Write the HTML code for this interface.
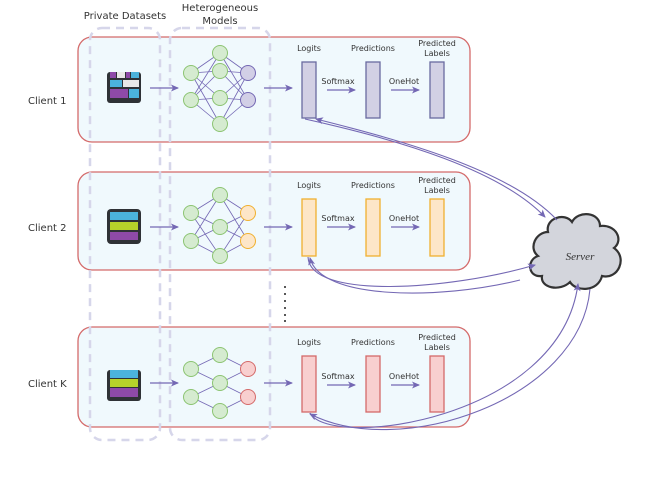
<!DOCTYPE html>
<html><head><style>
body{margin:0;background:#fff;}
svg text{font-family:"DejaVu Sans","Liberation Sans",sans-serif;fill:#333;}
</style></head><body>
<svg width="654" height="498" viewBox="0 0 654 498" xmlns="http://www.w3.org/2000/svg">
<defs>
<marker id="a" markerWidth="8" markerHeight="8" refX="7" refY="4" orient="auto" markerUnits="userSpaceOnUse"><path d="M0,0.5 L8,4 L0,7.5 L2,4 z" fill="#7468b4"/></marker>
</defs>
<rect x="78" y="37" width="392" height="105" rx="14" fill="#f0f9fd" stroke="#d46a6a" stroke-width="1.3"/>
<rect x="78" y="172" width="392" height="98" rx="14" fill="#f0f9fd" stroke="#d46a6a" stroke-width="1.3"/>
<rect x="78" y="327" width="392" height="100" rx="14" fill="#f0f9fd" stroke="#d46a6a" stroke-width="1.3"/>
<rect x="90" y="28" width="70" height="412" rx="12" fill="none" stroke="#d6d6ea" stroke-width="2.5" stroke-dasharray="8,6"/>
<rect x="170" y="28" width="100" height="412" rx="12" fill="none" stroke="#d6d6ea" stroke-width="2.5" stroke-dasharray="8,6"/>
<text x="125" y="19" font-size="10" text-anchor="middle">Private Datasets</text>
<text x="220" y="11" font-size="10" text-anchor="middle">Heterogeneous</text>
<text x="220" y="24" font-size="10" text-anchor="middle">Models</text>
<text x="28" y="104" font-size="10">Client 1</text>
<text x="28" y="231" font-size="10">Client 2</text>
<text x="28" y="387" font-size="10">Client K</text>
<g>
<rect x="107" y="72" width="34" height="31" rx="3" fill="#2f3236"/>
<rect x="110" y="72" width="6" height="6" fill="#8e4aa8"/><rect x="117" y="72" width="8" height="6" fill="#e8e8e8"/><rect x="126" y="72" width="4" height="6" fill="#8e4aa8"/><rect x="131" y="72" width="8" height="6" fill="#4bb3dc"/>
<rect x="110" y="80" width="12" height="7" fill="#4bb3dc"/><rect x="123" y="80" width="16" height="7" fill="#e8e8e8"/>
<rect x="110" y="89" width="18" height="9" fill="#8e4aa8"/><rect x="129" y="89" width="10" height="9" fill="#4bb3dc"/>
</g>
<g>
<rect x="107" y="209" width="34" height="35" rx="4" fill="#2f3236"/>
<rect x="110" y="212" width="28" height="8" fill="#4bb3dc"/>
<rect x="110" y="222" width="28" height="8" fill="#b6d22a"/>
<rect x="110" y="232" width="28" height="8" fill="#8e4aa8"/>
</g>
<g>
<rect x="107" y="370" width="34" height="31" rx="3" fill="#2f3236"/>
<rect x="110" y="370" width="28" height="8" fill="#4bb3dc"/>
<rect x="110" y="379" width="28" height="8" fill="#b6d22a"/>
<rect x="110" y="388" width="28" height="9" fill="#8e4aa8"/>
</g>
<g stroke="#7468b4" stroke-width="1.2" fill="none" marker-end="url(#a)">
<line x1="150" y1="88" x2="178" y2="88"/><line x1="264" y1="88" x2="292" y2="88"/>
<line x1="150" y1="227" x2="178" y2="227"/><line x1="264" y1="227" x2="292" y2="227"/>
<line x1="150" y1="383" x2="178" y2="383"/><line x1="264" y1="383" x2="292" y2="383"/>
<line x1="327" y1="90" x2="355" y2="90"/><line x1="391" y1="90" x2="419" y2="90"/>
<line x1="327" y1="227" x2="355" y2="227"/><line x1="391" y1="227" x2="419" y2="227"/>
<line x1="327" y1="385" x2="355" y2="385"/><line x1="391" y1="385" x2="419" y2="385"/>
</g>
<g stroke="#7468b4" stroke-width="0.8">
<path d="M191,73L220,53M191,73L220,71M191,73L220,98M191,73L220,124M191,100L220,53M191,100L220,71M191,100L220,98M191,100L220,124M220,53L248,73M220,71L248,73M220,98L248,73M220,124L248,73M220,53L248,100M220,71L248,100M220,98L248,100M220,124L248,100"/>
<path d="M191,213L220,195M191,213L220,227M191,213L220,256M191,241L220,195M191,241L220,227M191,241L220,256M220,195L248,213M220,227L248,213M220,256L248,213M220,195L248,241M220,227L248,241M220,256L248,241"/>
<path d="M191,369L220,355M191,369L220,383M191,397L220,383M191,397L220,411M220,355L248,369M220,383L248,369M220,383L248,397M220,411L248,397"/>
</g>
<g stroke="#8cc472" stroke-width="1" fill="#d5ebd0">
<circle cx="191" cy="73" r="7.5"/><circle cx="191" cy="100" r="7.5"/>
<circle cx="220" cy="53" r="7.5"/><circle cx="220" cy="71" r="7.5"/><circle cx="220" cy="98" r="7.5"/><circle cx="220" cy="124" r="7.5"/>
<circle cx="191" cy="213" r="7.5"/><circle cx="191" cy="241" r="7.5"/>
<circle cx="220" cy="195" r="7.5"/><circle cx="220" cy="227" r="7.5"/><circle cx="220" cy="256" r="7.5"/>
<circle cx="191" cy="369" r="7.5"/><circle cx="191" cy="397" r="7.5"/>
<circle cx="220" cy="355" r="7.5"/><circle cx="220" cy="383" r="7.5"/><circle cx="220" cy="411" r="7.5"/>
</g>
<g stroke="#7468b4" fill="#d2cfe6"><circle cx="248" cy="73" r="7.5"/><circle cx="248" cy="100" r="7.5"/></g>
<g stroke="#f0b030" fill="#fde6c8"><circle cx="248" cy="213" r="7.5"/><circle cx="248" cy="241" r="7.5"/></g>
<g stroke="#d46a6a" fill="#f8cfcf"><circle cx="248" cy="369" r="7.5"/><circle cx="248" cy="397" r="7.5"/></g>
<g stroke="#6a6aa0" stroke-width="1.3" fill="#d2d0e4">
<rect x="302" y="62" width="14" height="56"/><rect x="366" y="62" width="14" height="56"/><rect x="430" y="62" width="14" height="56"/>
</g>
<g stroke="#f0b030" stroke-width="1.3" fill="#fde6c8">
<rect x="302" y="199" width="14" height="57"/><rect x="366" y="199" width="14" height="57"/><rect x="430" y="199" width="14" height="57"/>
</g>
<g stroke="#d46a6a" stroke-width="1.3" fill="#f8cfcf">
<rect x="302" y="356" width="14" height="56"/><rect x="366" y="356" width="14" height="56"/><rect x="430" y="356" width="14" height="56"/>
</g>
<g font-size="8" text-anchor="middle">
<text x="309" y="51">Logits</text><text x="373" y="51">Predictions</text><text x="437" y="46">Predicted</text><text x="437" y="56">Labels</text>
<text x="338" y="84">Softmax</text><text x="404" y="84">OneHot</text>
<text x="309" y="188">Logits</text><text x="373" y="188">Predictions</text><text x="437" y="183">Predicted</text><text x="437" y="193">Labels</text>
<text x="338" y="221">Softmax</text><text x="404" y="221">OneHot</text>
<text x="309" y="345">Logits</text><text x="373" y="345">Predictions</text><text x="437" y="340">Predicted</text><text x="437" y="350">Labels</text>
<text x="338" y="379">Softmax</text><text x="404" y="379">OneHot</text>
</g>
<g fill="#222"><circle cx="285" cy="287" r="1"/><circle cx="285" cy="294" r="1"/><circle cx="285" cy="301" r="1"/><circle cx="285" cy="308" r="1"/><circle cx="285" cy="315" r="1"/><circle cx="285" cy="321" r="1"/></g>
<path d="M548,232 C545,218 565,212 572,222 C578,210 600,212 600,226 C616,224 624,240 614,248 C628,258 618,280 602,276 C598,292 576,292 570,282 C560,292 540,288 542,276 C528,278 526,260 538,256 C528,248 536,232 548,232 Z" fill="#d3d5dc" stroke="#333" stroke-width="2.2"/>
<text x="580" y="260" font-size="11" font-style="italic" text-anchor="middle" style="font-family:'Liberation Serif',serif">Server</text>
<g stroke="#7468b4" stroke-width="1.1" fill="none" marker-end="url(#a)">
<path d="M305,119 C400,140 500,170 545,217"/>
<path d="M557,220 C510,170 400,140 316,119"/>
<path d="M308,257 C310,300 450,290 535,265"/>
<path d="M520,280 C440,300 320,300 310,258"/>
<path d="M310,413 C330,450 560,420 578,284"/>
<path d="M590,289 C580,400 400,460 310,414"/>
</g>
</svg>
</body></html>
